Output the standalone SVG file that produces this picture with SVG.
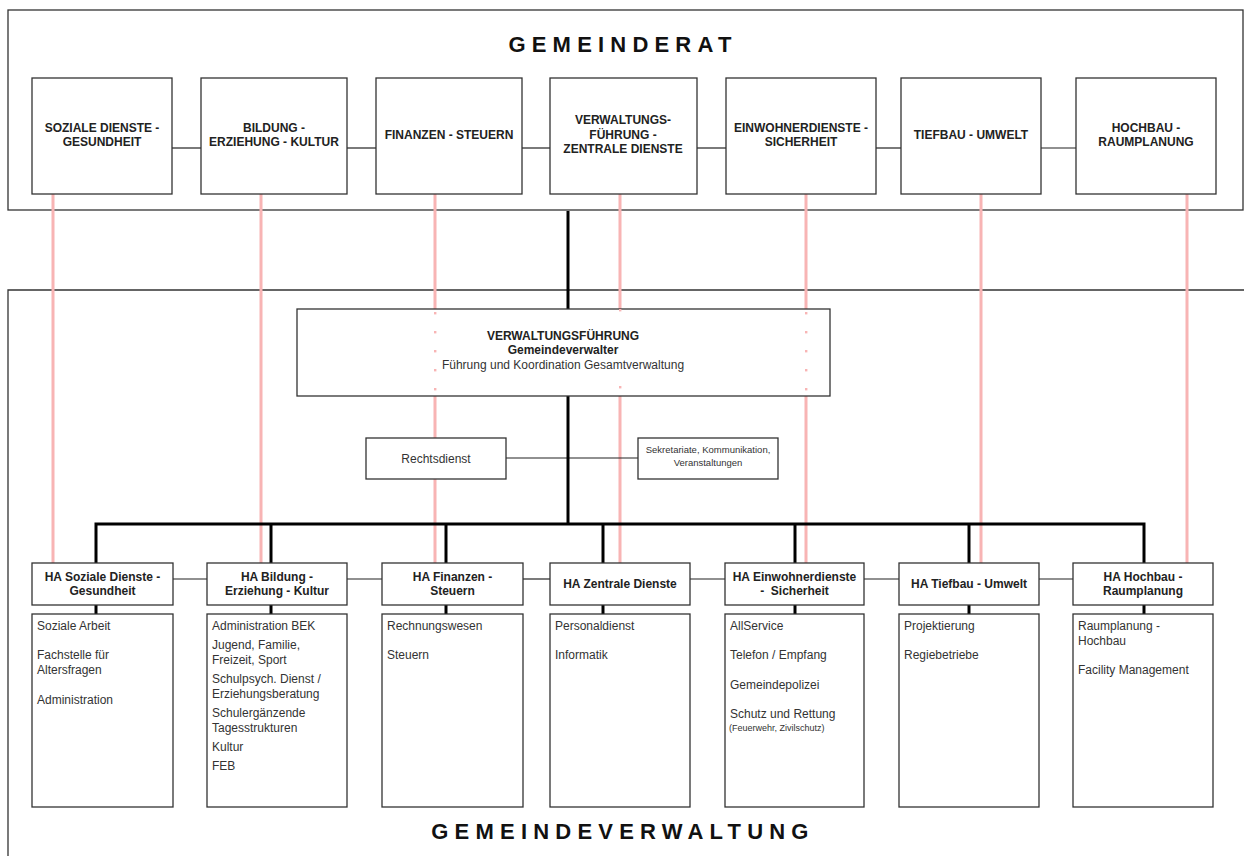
<svg xmlns="http://www.w3.org/2000/svg" width="1244" height="856" viewBox="0 0 1244 856">
  <style>
    .frame { fill: none; stroke: #333; stroke-width: 1.3; }
    .box { fill: #fff; stroke: #333; stroke-width: 1.3; }
    .thin { fill: none; stroke: #222; stroke-width: 1.2; }
    .thick { fill: none; stroke: #000; stroke-width: 3; }
    .pink { fill: none; stroke: #f8b4b4; stroke-width: 3; }
    .dot { fill: #f8b4b4; }
    .title { font-family: "Liberation Sans", Arial, sans-serif; font-size: 22px; font-weight: bold; letter-spacing: 6.2px; fill: #111; text-anchor: middle; }
    .hd { font-family: "Liberation Sans", Arial, sans-serif; font-size: 12px; font-weight: bold; fill: #222; text-anchor: middle; }
    .tx { font-family: "Liberation Sans", Arial, sans-serif; font-size: 12px; fill: #333; }
    .txc { font-family: "Liberation Sans", Arial, sans-serif; font-size: 12px; fill: #333; text-anchor: middle; }
    .sm { font-family: "Liberation Sans", Arial, sans-serif; font-size: 9.5px; fill: #333; text-anchor: middle; }
    .xs { font-family: "Liberation Sans", Arial, sans-serif; font-size: 9px; fill: #333; }
  </style>

  <rect width="1244" height="856" fill="#fff"/>

  <!-- council and administration frames -->
  <g id="frames">
    <rect class="frame" x="8" y="10" width="1235" height="200"/>
    <path class="frame" d="M1244,290 H8 V856"/>
    <text class="title" x="623" y="52">GEMEINDERAT</text>
    <text class="title" x="623" y="839">GEMEINDEVERWALTUNG</text>
  </g>

  <!-- connectors -->
  <g id="connectors">
    <!-- departmental links council -> head office -->
    <g class="pink">
      <line x1="53" y1="194" x2="53" y2="563"/>
      <line x1="261" y1="194" x2="261" y2="563"/>
      <line x1="435" y1="194" x2="435" y2="563"/>
      <line x1="620" y1="194" x2="620" y2="563"/>
      <line x1="806" y1="194" x2="806" y2="563"/>
      <line x1="981" y1="194" x2="981" y2="563"/>
      <line x1="1187" y1="194" x2="1187" y2="563"/>
    </g>
    <!-- council row links -->
    <g class="thin">
      <line x1="172" y1="148" x2="201" y2="148"/>
      <line x1="347" y1="148" x2="376" y2="148"/>
      <line x1="522" y1="148" x2="550" y2="148"/>
      <line x1="697" y1="148" x2="726" y2="148"/>
      <line x1="876" y1="148" x2="901" y2="148"/>
      <line x1="1041" y1="148" x2="1076" y2="148"/>
      <!-- staff units -->
      <line x1="506" y1="458" x2="638" y2="458"/>
      <!-- head office row links -->
      <line x1="173" y1="579" x2="207" y2="579"/>
      <line x1="347" y1="579" x2="382" y2="579"/>
      <line x1="523" y1="579" x2="550" y2="579"/>
      <line x1="690" y1="579" x2="725" y2="579"/>
      <line x1="864" y1="579" x2="899" y2="579"/>
      <line x1="1039" y1="579" x2="1073" y2="579"/>
    </g>
    <!-- main reporting line and bus -->
    <g class="thick">
      <line x1="568" y1="211" x2="568" y2="309"/>
      <line x1="568" y1="396" x2="568" y2="524"/>
      <path d="M96,563 V524 H1144 V563"/>
      <line x1="271" y1="524" x2="271" y2="563"/>
      <line x1="446" y1="524" x2="446" y2="563"/>
      <line x1="603" y1="524" x2="603" y2="563"/>
      <line x1="795" y1="524" x2="795" y2="563"/>
      <line x1="969" y1="524" x2="969" y2="563"/>
      <line x1="96" y1="605" x2="96" y2="614"/>
      <line x1="271" y1="605" x2="271" y2="614"/>
      <line x1="446" y1="605" x2="446" y2="614"/>
      <line x1="603" y1="605" x2="603" y2="614"/>
      <line x1="795" y1="605" x2="795" y2="614"/>
      <line x1="969" y1="605" x2="969" y2="614"/>
      <line x1="1144" y1="605" x2="1144" y2="614"/>
    </g>
  </g>

  <!-- council departments -->
  <g id="gr-soziales">
    <rect class="box" x="32" y="78" width="140" height="116"/>
    <text class="hd" x="102" y="132">SOZIALE DIENSTE -</text>
    <text class="hd" x="102" y="146">GESUNDHEIT</text>
  </g>
  <g id="gr-bildung">
    <rect class="box" x="201" y="78" width="146" height="116"/>
    <text class="hd" x="274" y="132">BILDUNG -</text>
    <text class="hd" x="274" y="146">ERZIEHUNG - KULTUR</text>
  </g>
  <g id="gr-finanzen">
    <rect class="box" x="376" y="78" width="146" height="116"/>
    <text class="hd" x="449" y="139">FINANZEN - STEUERN</text>
  </g>
  <g id="gr-verwaltung">
    <rect class="box" x="550" y="78" width="147" height="116"/>
    <text class="hd" x="623" y="124">VERWALTUNGS-</text>
    <text class="hd" x="623" y="139">FÜHRUNG -</text>
    <text class="hd" x="623" y="153">ZENTRALE DIENSTE</text>
  </g>
  <g id="gr-einwohner">
    <rect class="box" x="726" y="78" width="150" height="116"/>
    <text class="hd" x="801" y="132">EINWOHNERDIENSTE -</text>
    <text class="hd" x="801" y="146">SICHERHEIT</text>
  </g>
  <g id="gr-tiefbau">
    <rect class="box" x="901" y="78" width="140" height="116"/>
    <text class="hd" x="971" y="139">TIEFBAU - UMWELT</text>
  </g>
  <g id="gr-hochbau">
    <rect class="box" x="1076" y="78" width="140" height="116"/>
    <text class="hd" x="1146" y="132">HOCHBAU -</text>
    <text class="hd" x="1146" y="146">RAUMPLANUNG</text>
  </g>

  <!-- executive management -->
  <g id="verwaltungsfuehrung">
    <rect class="box" x="297" y="309" width="533" height="87"/>
    <g class="dot">
      <rect x="434" y="312" width="2.4" height="2.4"/>
      <rect x="434" y="331" width="2.4" height="2.4"/>
      <rect x="434" y="350" width="2.4" height="2.4"/>
      <rect x="434" y="369" width="2.4" height="2.4"/>
      <rect x="434" y="388" width="2.4" height="2.4"/>
      <rect x="619" y="309" width="2.4" height="2.4"/>
      <rect x="619" y="386" width="2.4" height="2.4"/>
      <rect x="805" y="312" width="2.4" height="2.4"/>
      <rect x="805" y="331" width="2.4" height="2.4"/>
      <rect x="805" y="350" width="2.4" height="2.4"/>
      <rect x="805" y="369" width="2.4" height="2.4"/>
      <rect x="805" y="388" width="2.4" height="2.4"/>
    </g>
    <text class="hd" x="563" y="340">VERWALTUNGSFÜHRUNG</text>
    <text class="hd" x="563" y="354">Gemeindeverwalter</text>
    <text class="txc" x="563" y="369">Führung und Koordination Gesamtverwaltung</text>
  </g>
  <g id="rechtsdienst">
    <rect class="box" x="366" y="438" width="140" height="41"/>
    <text class="txc" x="436" y="463">Rechtsdienst</text>
  </g>
  <g id="sekretariate">
    <rect class="box" x="638" y="438" width="140" height="41"/>
    <text class="sm" x="708" y="453">Sekretariate, Kommunikation,</text>
    <text class="sm" x="708" y="466">Veranstaltungen</text>
  </g>

  <!-- head offices -->
  <g id="ha-soziales">
    <rect class="box" x="32" y="563" width="141" height="42"/>
    <text class="hd" x="102.5" y="581">HA Soziale Dienste -</text>
    <text class="hd" x="102.5" y="595">Gesundheit</text>
    <rect class="box" x="32" y="614" width="141" height="193"/>
    <text class="tx" x="37" y="630">Soziale Arbeit</text>
    <text class="tx" x="37" y="659">Fachstelle für</text>
    <text class="tx" x="37" y="674">Altersfragen</text>
    <text class="tx" x="37" y="704">Administration</text>
  </g>
  <g id="ha-bildung">
    <rect class="box" x="207" y="563" width="140" height="42"/>
    <text class="hd" x="277" y="581">HA Bildung -</text>
    <text class="hd" x="277" y="595">Erziehung - Kultur</text>
    <rect class="box" x="207" y="614" width="140" height="193"/>
    <text class="tx" x="212" y="630">Administration BEK</text>
    <text class="tx" x="212" y="649">Jugend, Familie,</text>
    <text class="tx" x="212" y="664">Freizeit, Sport</text>
    <text class="tx" x="212" y="683">Schulpsych. Dienst /</text>
    <text class="tx" x="212" y="698">Erziehungsberatung</text>
    <text class="tx" x="212" y="717">Schulergänzende</text>
    <text class="tx" x="212" y="732">Tagesstrukturen</text>
    <text class="tx" x="212" y="751">Kultur</text>
    <text class="tx" x="212" y="770">FEB</text>
  </g>
  <g id="ha-finanzen">
    <rect class="box" x="382" y="563" width="141" height="42"/>
    <text class="hd" x="452.5" y="581">HA Finanzen -</text>
    <text class="hd" x="452.5" y="595">Steuern</text>
    <rect class="box" x="382" y="614" width="141" height="193"/>
    <text class="tx" x="387" y="630">Rechnungswesen</text>
    <text class="tx" x="387" y="659">Steuern</text>
  </g>
  <g id="ha-zentrale">
    <rect class="box" x="550" y="563" width="140" height="42"/>
    <text class="hd" x="620" y="588">HA Zentrale Dienste</text>
    <rect class="box" x="550" y="614" width="140" height="193"/>
    <text class="tx" x="555" y="630">Personaldienst</text>
    <text class="tx" x="555" y="659">Informatik</text>
  </g>
  <g id="ha-einwohner">
    <rect class="box" x="725" y="563" width="139" height="42"/>
    <text class="hd" x="794.5" y="581">HA Einwohnerdienste</text>
    <text class="hd" x="794.5" y="595" xml:space="preserve">-  Sicherheit</text>
    <rect class="box" x="725" y="614" width="139" height="193"/>
    <text class="tx" x="730" y="630">AllService</text>
    <text class="tx" x="730" y="659">Telefon / Empfang</text>
    <text class="tx" x="730" y="689">Gemeindepolizei</text>
    <text class="tx" x="730" y="718">Schutz und Rettung</text>
    <text class="xs" x="729" y="731">(Feuerwehr, Zivilschutz)</text>
  </g>
  <g id="ha-tiefbau">
    <rect class="box" x="899" y="563" width="140" height="42"/>
    <text class="hd" x="969" y="588">HA Tiefbau - Umwelt</text>
    <rect class="box" x="899" y="614" width="140" height="193"/>
    <text class="tx" x="904" y="630">Projektierung</text>
    <text class="tx" x="904" y="659">Regiebetriebe</text>
  </g>
  <g id="ha-hochbau">
    <rect class="box" x="1073" y="563" width="140" height="42"/>
    <text class="hd" x="1143" y="581">HA Hochbau -</text>
    <text class="hd" x="1143" y="595">Raumplanung</text>
    <rect class="box" x="1073" y="614" width="140" height="193"/>
    <text class="tx" x="1078" y="630">Raumplanung -</text>
    <text class="tx" x="1078" y="645">Hochbau</text>
    <text class="tx" x="1078" y="674">Facility Management</text>
  </g>
</svg>
